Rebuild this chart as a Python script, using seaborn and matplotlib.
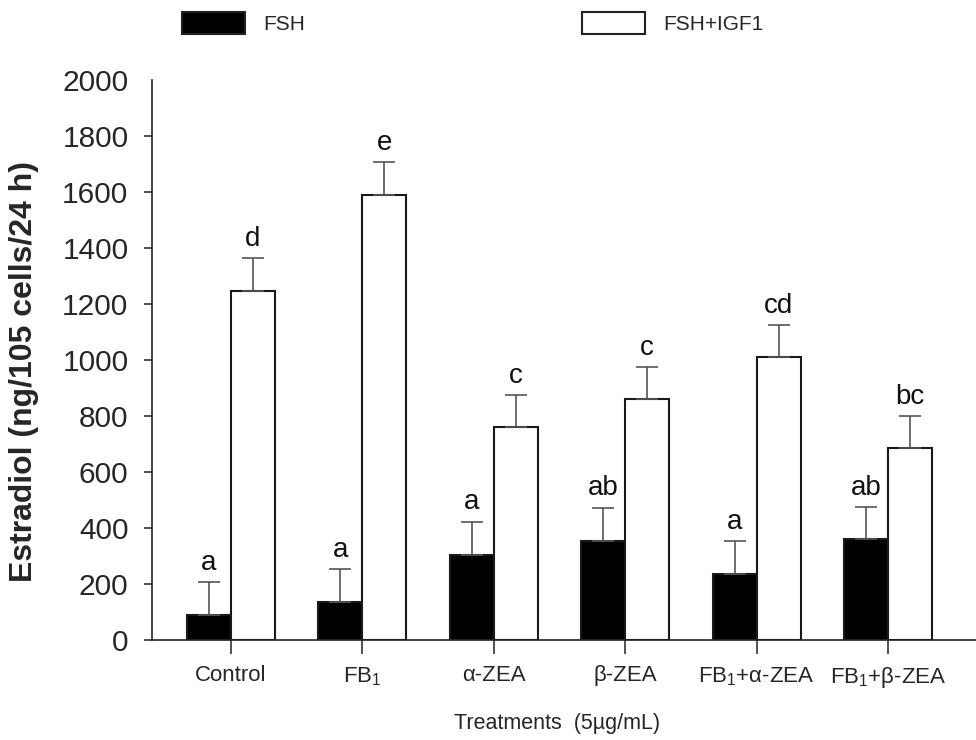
import matplotlib
matplotlib.use('Agg')
import matplotlib.pyplot as plt
from matplotlib.patches import Patch
import numpy as np
import pandas as pd
import seaborn as sns

# values
treatments = ['Control', 'FB$_1$', 'α-ZEA', 'β-ZEA', 'FB$_1$+α-ZEA', 'FB$_1$+β-ZEA']
groups = ['FSH', 'FSH+IGF1']
fsh_mean = [90, 135, 305, 355, 235, 360]
fsh_sem = [117, 118, 118, 118, 118, 115]
igf_mean = [1245, 1590, 760, 860, 1010, 685]
igf_sem = [120, 118, 115, 115, 115, 115]
fsh_letters = ['a', 'a', 'a', 'ab', 'a', 'ab']
igf_letters = ['d', 'e', 'c', 'c', 'cd', 'bc']

sns.set_style('ticks')
plt.rcParams['font.family'] = ['Liberation Sans', 'DejaVu Sans']
plt.rcParams['mathtext.fontset'] = 'custom'
plt.rcParams['mathtext.rm'] = 'Liberation Sans'
plt.rcParams['mathtext.it'] = 'Liberation Sans:italic'
plt.rcParams['mathtext.bf'] = 'Liberation Sans:bold'

df = pd.DataFrame({
    'treatment': treatments * 2,
    'group': [groups[0]] * len(treatments) + [groups[1]] * len(treatments),
    'value': fsh_mean + igf_mean,
})

fig = plt.figure(figsize=(9.76, 7.4), dpi=100)
ax = fig.add_axes([152 / 976, 100 / 740, 824 / 976, 560 / 740])

sns.barplot(data=df, x='treatment', y='value', hue='group', hue_order=groups,
            palette=['black', 'white'], saturation=1, width=0.67,
            edgecolor='#1a1a1a', linewidth=1.5, errorbar=None, legend=False, ax=ax)

# one-sided error bars and significance letters
for cont, errs, letters in zip(ax.containers, [fsh_sem, igf_sem], [fsh_letters, igf_letters]):
    xs = np.array([b.get_x() + b.get_width() / 2 for b in cont])
    ys = np.array([b.get_height() for b in cont])
    errs = np.array(errs)
    ax.errorbar(xs, ys, yerr=[np.zeros_like(errs), errs], fmt='none',
                ecolor='#555555', elinewidth=1.2, capsize=8, capthick=1.2, zorder=1)
    for x, y, e, t in zip(xs, ys, errs, letters):
        ax.annotate(t, (x, y + e), xytext=(0, 4.5), textcoords='offset points',
                    ha='center', va='bottom', fontsize=20, color='#111111')

ax.set_ylim(0, 2000)
ax.set_yticks(np.arange(0, 2001, 200))
ax.set_xlim(-0.6, 5.67)
sns.despine(ax=ax)
for s in ['left', 'bottom']:
    ax.spines[s].set_linewidth(1.2)
    ax.spines[s].set_color('#222222')

ax.tick_params(axis='y', length=6, width=1.1, pad=11, labelsize=21.5, color='#222222')
ax.tick_params(axis='x', length=10, width=1.1, pad=8, labelsize=16, color='#222222')
ax.yaxis.get_major_ticks()[-1].tick1line.set_visible(False)

ax.set_ylabel('Estradiol (ng/105 cells/24 h)', fontsize=23, fontweight='bold')
ax.yaxis.set_label_coords(-0.137, 0.48)
ax.set_xlabel('Treatments  (5µg/mL)', fontsize=15.5)
ax.xaxis.set_label_coords(0.4915, -0.131)

handles = [Patch(facecolor='black', edgecolor='#222222', linewidth=1.5),
           Patch(facecolor='white', edgecolor='#222222', linewidth=1.5)]
fig.legend(handles, groups, loc='upper left', bbox_to_anchor=(182 / 976, 1 - 12 / 740),
           ncol=2, frameon=False, fontsize=15, handlelength=3.0, handleheight=1.25,
           handletextpad=0.9, columnspacing=13.3, borderpad=0, borderaxespad=0)

fig.savefig('out.png', dpi=100, facecolor='white')
